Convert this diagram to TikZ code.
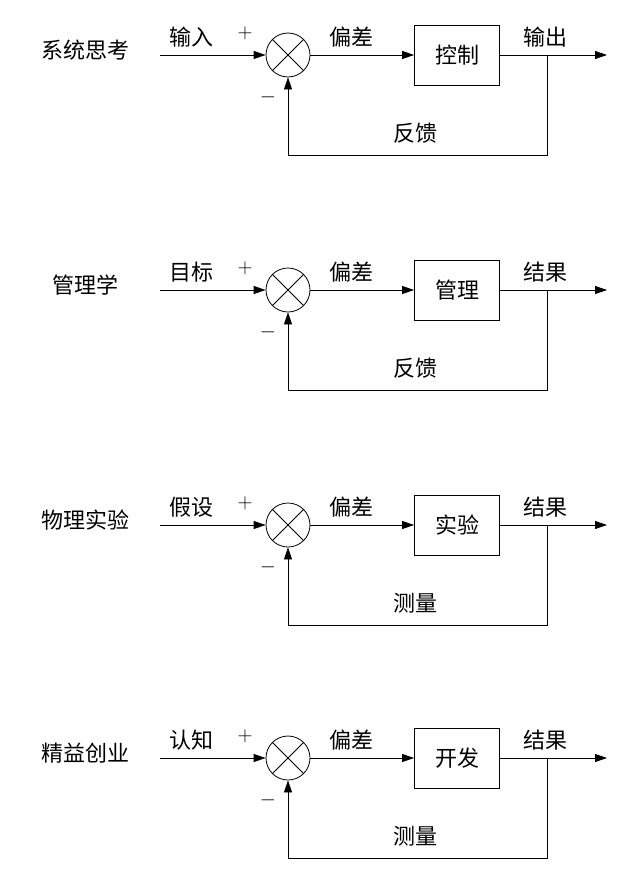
\documentclass[tikz,border=0pt]{standalone}
\usepackage{fontspec}
\setmainfont{Noto Sans CJK SC}
\usetikzlibrary{positioning,arrows.meta}
\begin{document}
\begin{tikzpicture}[x=1pt,y=-1pt,
sumnode/.style={circle, draw, thick, minimum size=44pt, inner sep=0pt},
blocknode/.style={rectangle, draw, thick, minimum width=85pt, minimum height=60pt},
lbl/.style={font=\fontsize{22}{26}\selectfont, inner sep=0pt},
sig/.style={thick, -{Triangle[length=12pt,width=8pt]}},
]
\useasboundingbox (0,0) rectangle (640,894);
\foreach \y/\title/\inp/\blk/\outp/\fb in {55/系统思考/输入/控制/输出/反馈,
  290/管理学/目标/管理/结果/反馈,
  525/物理实验/假设/实验/结果/测量,
  758/精益创业/认知/开发/结果/测量}{
  \node[lbl] (title) at (85,\y-5) {\title};
  \coordinate (in) at (160,\y);
  \node[sumnode] (sum) at (288,\y) {};
  \draw[thick] (sum.north west) -- (sum.south east) (sum.north east) -- (sum.south west);
  \node[blocknode, lbl] (blk) at (457,\y) {\blk};
  \coordinate (tap) at (547,\y);
  \coordinate (out) at (607,\y);
  \coordinate (fbl) at (547,\y+100);
  \coordinate (fbr) at (288,\y+100);
  %% Lines
  \draw[sig] (in) -- (sum.west);
  \draw[sig] (sum.east) -- (blk.west);
  \draw[sig] (blk.east) -- (out);
  \draw[sig] (tap) -- (fbl) -- (fbr) -- (sum.south);
  %% Labels
  \node[lbl] at (191,\y-18) {\inp};
  \node[lbl] at (245,\y-22) {$+$};
  \node[lbl] at (268,\y+42) {$-$};
  \node[lbl] at (351,\y-18) {偏差};
  \node[lbl] at (545,\y-18) {\outp};
  \node[lbl] at (415,\y+78) {\fb};
}
\end{tikzpicture}
\end{document}
